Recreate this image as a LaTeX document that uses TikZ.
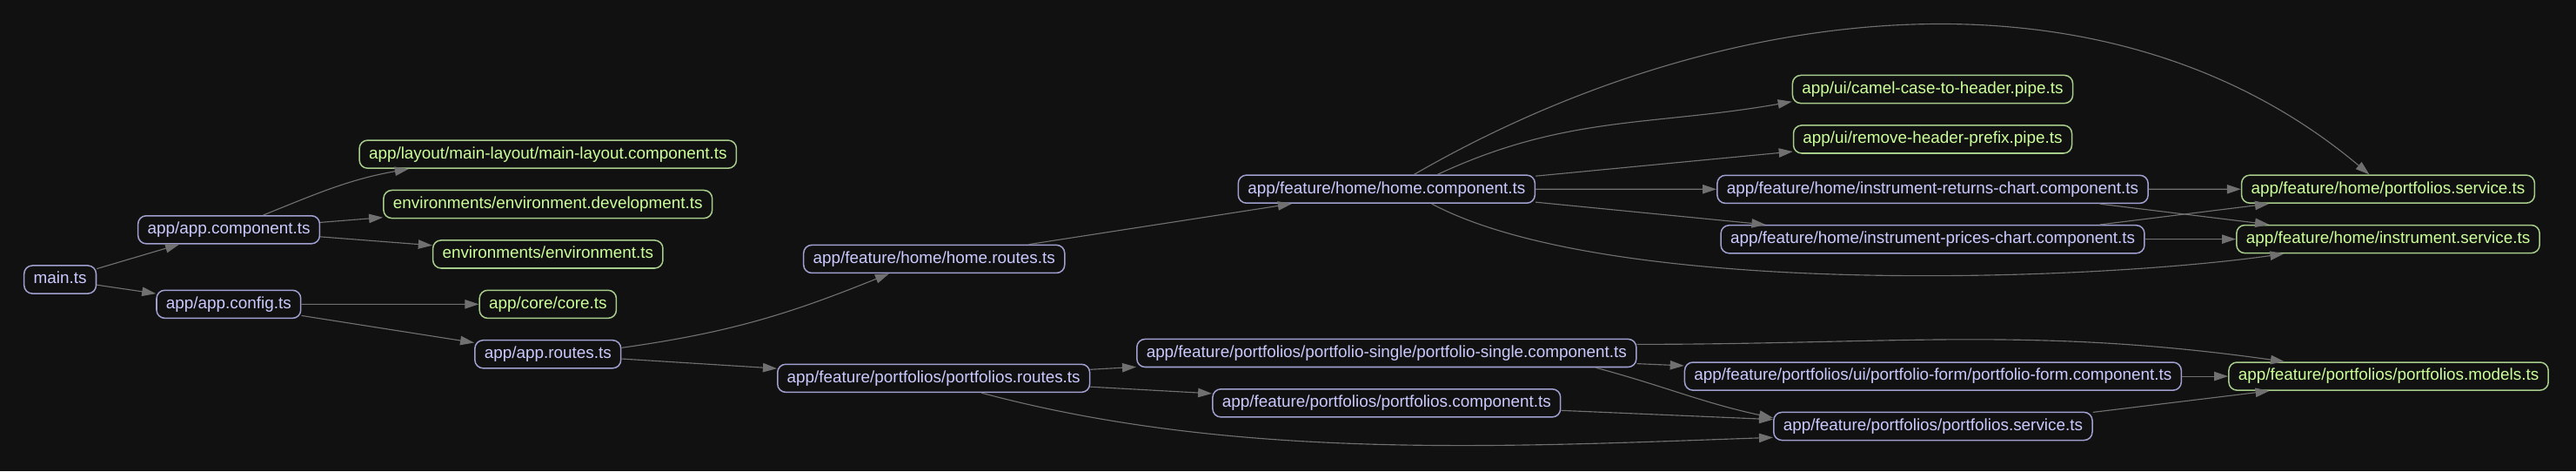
\documentclass[tikz,border=0pt]{standalone}
\usepackage{fontspec}
\setmainfont{Liberation Sans}
\usetikzlibrary{arrows.meta,positioning}
\definecolor{Backdrop}{HTML}{111111}
\definecolor{FileLine}{HTML}{A0A0D0}
\definecolor{FileText}{HTML}{CACAFF}
\definecolor{LeafLine}{HTML}{A8CC8C}
\definecolor{LeafText}{HTML}{CCFF99}
\definecolor{Wire}{HTML}{707070}
\tikzstyle{Box} = [draw, rectangle, rounded corners=5pt, line width=0.8pt, minimum height=17pt, inner xsep=5.8pt, text height=7.3pt, text depth=2.1pt]
\tikzstyle{File} = [Box, draw=FileLine, text=FileText]
\tikzstyle{Leaf} = [Box, draw=LeafLine, text=LeafText]
\tikzstyle{Edge} = [draw=Wire, line width=0.6pt, -{Triangle[length=8.5pt,width=5.5pt]}]

\begin{document}
\begin{tikzpicture}[x=1pt, y=1pt, node distance=12.6pt]
    \useasboundingbox (0,0) rectangle (1568,-286.5);
    \fill[Backdrop] (0,0) rectangle (1568,-286.5);
    \node[File] (main)       at (36.6,-170)     {main.ts};
    \node[File] (appcomp)    at (139.3,-139.7)  {app/app.component.ts};
    \node[File] (appconfig)  at (139.2,-185)    {app/app.config.ts};
    \node[Leaf] (mainlayout) at (333.5,-93.8)   {app/layout/main-layout/main-layout.component.ts};
    \node[Leaf] (envdev)     [below=of mainlayout] {environments/environment.development.ts};
    \node[Leaf] (env)        [below=of envdev]  {environments/environment.ts};
    \node[Leaf] (core)       [below=of env]     {app/core/core.ts};
    \node[File] (approutes)  [below=of core]    {app/app.routes.ts};
    \node[File] (homeroutes) at (568.6,-157.5)  {app/feature/home/home.routes.ts};
    \node[File] (portroutes) at (568.3,-230)    {app/feature/portfolios/portfolios.routes.ts};
    \node[File] (homecomp)   at (844,-115)      {app/feature/home/home.component.ts};
    \node[File] (portsingle) at (844,-214.7)    {app/feature/portfolios/portfolio-single/portfolio-single.component.ts};
    \node[File] (portcomp)   [below=of portsingle] {app/feature/portfolios/portfolios.component.ts};
    \node[Leaf] (camel)      at (1176.4,-54.3)  {app/ui/camel-case-to-header.pipe.ts};
    \node[Leaf] (remove)     [below=of camel]   {app/ui/remove-header-prefix.pipe.ts};
    \node[File] (returns)    [below=of remove]  {app/feature/home/instrument-returns-chart.component.ts};
    \node[File] (prices)     [below=of returns] {app/feature/home/instrument-prices-chart.component.ts};
    \node[File] (portform)   at (1176.6,-228.8) {app/feature/portfolios/ui/portfolio-form/portfolio-form.component.ts};
    \node[File] (portservice) [below=of portform] {app/feature/portfolios/portfolios.service.ts};
    \node[Leaf] (homepserv)  at (1453.6,-115)   {app/feature/home/portfolios.service.ts};
    \node[Leaf] (instrserv)  [below=of homepserv] {app/feature/home/instrument.service.ts};
    \node[Leaf] (portmodels) at (1453.9,-228.8) {app/feature/portfolios/portfolios.models.ts};
    \draw[Edge] (main) -- (appcomp);
    \draw[Edge] (main) -- (appconfig);
    \draw[Edge] (appcomp.23) to[out=22,in=190] (mainlayout.186);
    \draw[Edge] (appcomp) -- (envdev);
    \draw[Edge] (appcomp) -- (env);
    \draw[Edge] (appconfig) -- (core);
    \draw[Edge] (appconfig) -- (approutes);
    \draw[Edge] (approutes.5) to[out=8,in=202] (homeroutes.198);
    \draw[Edge] (approutes) -- (portroutes);
    \draw[Edge] (homeroutes) -- (homecomp);
    \draw[Edge] (portroutes) -- (portsingle);
    \draw[Edge] (portroutes) -- (portcomp);
    \draw[Edge] (portroutes.-17) to[out=-15,in=182,looseness=0.85] (portservice.184);
    \draw[Edge] (homecomp.28) to[out=30,in=140,looseness=0.93] (homepserv.142);
    \draw[Edge] (homecomp.16) to[out=25,in=190] (camel.185);
    \draw[Edge] (homecomp.5) -- (remove.185);
    \draw[Edge] (homecomp) -- (returns);
    \draw[Edge] (homecomp.-5) -- (prices.175);
    \draw[Edge] (homecomp.-18) to[out=-28,in=188,looseness=0.6] (instrserv.188);
    \draw[Edge] (returns) -- (homepserv);
    \draw[Edge] (returns.-5.5) -- (instrserv.173);
    \draw[Edge] (prices.5.5) -- (homepserv.187);
    \draw[Edge] (prices) -- (instrserv);
    \draw[Edge] (portsingle.2) to[out=0,in=172] (portmodels.172);
    \draw[Edge] (portsingle) -- (portform);
    \draw[Edge] (portsingle.-4) to[out=-15,in=168] (portservice.177);
    \draw[Edge] (portcomp) -- (portservice);
    \draw[Edge] (portform) -- (portmodels);
    \draw[Edge] (portservice.5.5) -- (portmodels.187);
\end{tikzpicture}
\end{document}
